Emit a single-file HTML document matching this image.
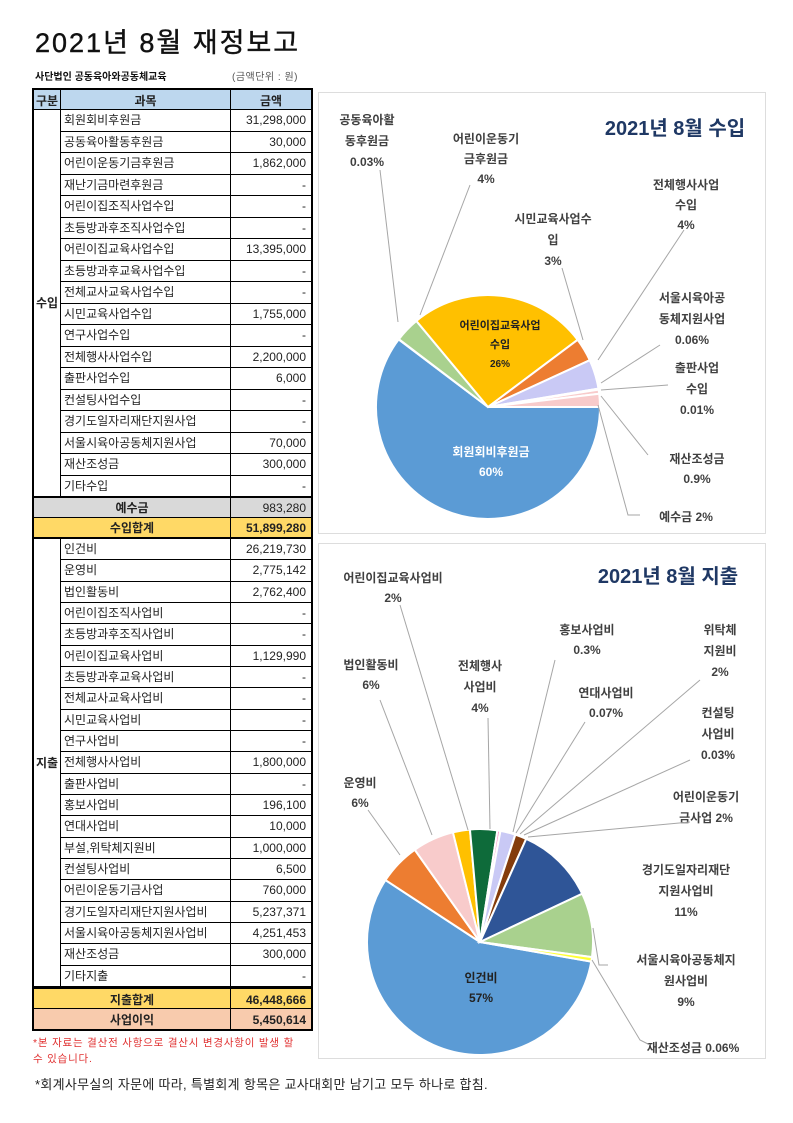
<!DOCTYPE html>
<html><head><meta charset="utf-8">
<style>
body{margin:0;background:#fff;width:793px;height:1123px;position:relative;overflow:hidden;font-family:"Liberation Sans","Noto Sans CJK KR",sans-serif;}
.a{position:absolute;white-space:nowrap;}
.c{position:absolute;box-sizing:border-box;border-right:1px solid #000;border-bottom:1px solid #000;font-size:12px;color:#222;overflow:hidden;white-space:nowrap;}
</style></head><body>
<div class="a" style="left:35px;top:21px;font-size:27px;letter-spacing:2px;color:#111;-webkit-text-stroke:0.4px #111;">2021년 8월 재정보고</div>
<div class="a" style="left:35px;top:68px;font-size:10px;font-weight:bold;color:#111;">사단법인 공동육아와공동체교육</div>
<div class="a" style="left:232px;top:68px;font-size:10px;color:#555;letter-spacing:0.5px;">(금액단위 : 원)</div>
<div id="tbl"></div>
<div class="a" style="left:33px;top:1035px;font-size:10.5px;color:#e03030;line-height:16px;letter-spacing:0.8px;">*본 자료는 결산전 사항으로 결산시 변경사항이 발생 할<br>수 있습니다.</div>
<div class="a" style="left:35px;top:1074px;font-size:13px;color:#222;letter-spacing:0.3px;">*회계사무실의 자문에 따라, 특별회계 항목은 교사대회만 남기고 모두 하나로 합침.</div>
<div class="a" style="left:318px;top:92px;width:448px;height:442px;border:1px solid #ddd;box-sizing:border-box"></div>
<div class="a" style="left:318px;top:543px;width:448px;height:516px;border:1px solid #ddd;box-sizing:border-box"></div>
<svg id="sv" class="a" style="left:0;top:0" width="793" height="1123"></svg>
<script>
var T=document.getElementById('tbl');
function cell(x,y,w,h,t,st){var d=document.createElement('div');d.className='c';d.style.cssText+='left:'+x+'px;top:'+y+'px;width:'+w+'px;height:'+h+'px;line-height:'+h+'px;'+(st||'');d.textContent=t;T.appendChild(d);}
var X0=32,X1=61,X2=231,X3=313;
cell(X0,88,X1-X0,22,'구분','background:#BDD7EE;font-weight:bold;text-align:center;border-left:2px solid #000;border-top:2px solid #000;');
cell(X1,88,X2-X1,22,'과목','background:#BDD7EE;font-weight:bold;text-align:center;border-top:2px solid #000;');
cell(X2,88,X3-X2,22,'금액','background:#BDD7EE;font-weight:bold;text-align:center;border-top:2px solid #000;border-right:2px solid #000;');
var inc=[['회원회비후원금','31,298,000'],['공동육아활동후원금','30,000'],['어린이운동기금후원금','1,862,000'],['재난기금마련후원금','-'],['어린이집조직사업수입','-'],['초등방과후조직사업수입','-'],['어린이집교육사업수입','13,395,000'],['초등방과후교육사업수입','-'],['전체교사교육사업수입','-'],['시민교육사업수입','1,755,000'],['연구사업수입','-'],['전체행사사업수입','2,200,000'],['출판사업수입','6,000'],['컨설팅사업수입','-'],['경기도일자리재단지원사업','-'],['서울시육아공동체지원사업','70,000'],['재산조성금','300,000'],['기타수입','-']];
var y=110,h=21.5;
cell(X0,y,X1-X0,h*inc.length,'수입','text-align:center;font-weight:bold;border-left:2px solid #000;line-height:'+(h*inc.length)+'px');
inc.forEach(function(r,i){cell(X1,y+i*h,X2-X1,h,r[0],'padding-left:3px;');cell(X2,y+i*h,X3-X2,h,r[1],'text-align:right;padding-right:5px;border-right:2px solid #000;');});
y+=h*inc.length;
cell(X0,y,X2-X0,21,'예수금','background:#D9D9D9;text-align:center;font-weight:bold;border-left:2px solid #000;border-top:1px solid #000');
cell(X2,y,X3-X2,21,'983,280','background:#D9D9D9;text-align:right;padding-right:5px;border-right:2px solid #000;border-top:1px solid #000');
y+=21;
cell(X0,y,X2-X0,21,'수입합계','background:#FFD966;text-align:center;font-weight:bold;border-left:2px solid #000;border-bottom:2px solid #000');
cell(X2,y,X3-X2,21,'51,899,280','background:#FFD966;text-align:right;padding-right:5px;font-weight:bold;border-right:2px solid #000;border-bottom:2px solid #000');
y+=21;
var exp=[['인건비','26,219,730'],['운영비','2,775,142'],['법인활동비','2,762,400'],['어린이집조직사업비','-'],['초등방과후조직사업비','-'],['어린이집교육사업비','1,129,990'],['초등방과후교육사업비','-'],['전체교사교육사업비','-'],['시민교육사업비','-'],['연구사업비','-'],['전체행사사업비','1,800,000'],['출판사업비','-'],['홍보사업비','196,100'],['연대사업비','10,000'],['부설,위탁체지원비','1,000,000'],['컨설팅사업비','6,500'],['어린이운동기금사업','760,000'],['경기도일자리재단지원사업비','5,237,371'],['서울시육아공동체지원사업비','4,251,453'],['재산조성금','300,000'],['기타지출','-']];
h=(987-y)/exp.length;
cell(X0,y,X1-X0,h*exp.length,'지출','text-align:center;font-weight:bold;border-left:2px solid #000;line-height:'+(h*exp.length)+'px');
exp.forEach(function(r,i){cell(X1,y+i*h,X2-X1,h,r[0],'padding-left:3px;');cell(X2,y+i*h,X3-X2,h,r[1],'text-align:right;padding-right:5px;border-right:2px solid #000;');});
y=987;
cell(X0,y,X2-X0,22,'지출합계','background:#FFD966;text-align:center;font-weight:bold;border-left:2px solid #000;border-top:2px solid #000');
cell(X2,y,X3-X2,22,'46,448,666','background:#FFD966;text-align:right;padding-right:5px;font-weight:bold;border-right:2px solid #000;border-top:2px solid #000');
cell(X0,1009,X2-X0,22,'사업이익','background:#F8CBAD;text-align:center;font-weight:bold;border-left:2px solid #000;border-bottom:2px solid #000');
cell(X2,1009,X3-X2,22,'5,450,614','background:#F8CBAD;text-align:right;padding-right:5px;font-weight:bold;border-right:2px solid #000;border-bottom:2px solid #000');

var S=document.getElementById('sv'),NS='http://www.w3.org/2000/svg';
function el(n,a,t){var e=document.createElementNS(NS,n);for(var k in a)e.setAttribute(k,a[k]);if(t)e.textContent=t;S.appendChild(e);return e;}
function pie(cx,cy,r,start,vals,cols){var tot=vals.reduce(function(a,b){return a+b},0),a=start;
vals.forEach(function(v,i){var b=a+v/tot*360;var p=function(d){var t=d*Math.PI/180;return [cx+r*Math.sin(t),cy-r*Math.cos(t)]};var s=p(a),e=p(b);
el('path',{d:'M'+cx+','+cy+'L'+s[0]+','+s[1]+'A'+r+','+r+' 0 '+((b-a)>180?1:0)+' 1 '+e[0]+','+e[1]+'Z',fill:cols[i],stroke:'#fff','stroke-width':2});a=b;});}
pie(488,407,112,90,[31298000,30000,1862000,13395000,1755000,2200000,70000,6000,300000,983280],['#5B9BD5','#A5A5A5','#A9D18E','#FFC000','#ED7D31','#C9C9F5','#1E6B3A','#7F7F7F','#F8CBCB','#F8CBCB']);
pie(480,942,113,100,[26219730,2775142,2762400,1129990,1800000,196100,10000,1000000,6500,760000,5237371,4251453,300000],['#5B9BD5','#ED7D31','#F8CBCB','#FFC000','#0E6B3A','#FF99CC','#7F7F7F','#C9C9F5','#9E480E','#843C0C','#2F5597','#A9D18E','#FFFF33']);
function txt(x,y,lines,opt){opt=opt||{};lines.forEach(function(l,i){el('text',{x:x,y:y+i*(opt.lh||21),'text-anchor':'middle','font-size':opt.fs||12,'font-weight':'bold',fill:opt.c||'#404040','font-family':'Liberation Sans, Noto Sans CJK KR, sans-serif'},l);});}
function ln(pts){el('polyline',{points:pts,fill:'none',stroke:'#A6A6A6','stroke-width':1});}
el('text',{x:675,y:135,'text-anchor':'middle','font-size':20,'font-weight':'bold',fill:'#1F3864','font-family':'Liberation Sans, Noto Sans CJK KR, sans-serif'},'2021년 8월 수입');
txt(367,124,['공동육아활','동후원금','0.03%'],{lh:21});
txt(486,143,['어린이운동기','금후원금','4%'],{lh:20});
txt(686,189,['전체행사사업','수입','4%'],{lh:20});
txt(553,223,['시민교육사업수','입','3%'],{lh:21});
txt(692,302,['서울시육아공','동체지원사업','0.06%'],{lh:21});
txt(697,372,['출판사업','수입','0.01%'],{lh:21});
txt(697,463,['재산조성금','0.9%'],{lh:20});
txt(686,521,['예수금 2%']);
txt(500,329,['어린이집교육사업','수입'],{fs:11,lh:19,c:'#222'});txt(500,367,['26%'],{fs:10,c:'#222'});
txt(491,456,['회원회비후원금','60%'],{fs:12,lh:20,c:'#fff'});
ln('398,322 380,170');ln('420,315 470,185');ln('583,340 562,268');ln('598,360 684,230');ln('601,383 660,345');ln('601,390 668,385');ln('601,396 648,455');ln('598,405 628,515 640,515');
el('text',{x:668,y:583,'text-anchor':'middle','font-size':20,'font-weight':'bold',fill:'#1F3864','font-family':'Liberation Sans, Noto Sans CJK KR, sans-serif'},'2021년 8월 지출');
txt(393,582,['어린이집교육사업비','2%'],{lh:20});
txt(587,634,['홍보사업비','0.3%'],{lh:20});
txt(720,634,['위탁체','지원비','2%'],{lh:21});
txt(371,669,['법인활동비','6%'],{lh:20});
txt(480,670,['전체행사','사업비','4%'],{lh:21});
txt(606,697,['연대사업비','0.07%'],{lh:20});
txt(718,717,['컨설팅','사업비','0.03%'],{lh:21});
txt(360,787,['운영비','6%'],{lh:20});
txt(706,801,['어린이운동기','금사업 2%'],{lh:21});
txt(686,874,['경기도일자리재단','지원사업비','11%'],{lh:21});
txt(686,964,['서울시육아공동체지','원사업비','9%'],{lh:21});
txt(693,1052,['재산조성금 0.06%']);
txt(481,982,['인건비','57%'],{fs:12,lh:20,c:'#222'});
ln('468,830 400,605');ln('432,835 380,700');ln('400,855 368,810');ln('490,829 488,718');ln('513,832 555,660');ln('516,833 585,722');ln('520,834 700,680');ln('524,835 690,760');ln('528,837 690,822');ln('593,928 599,965 608,965');ln('592,960 640,1040 650,1045');
</script>
</body></html>
